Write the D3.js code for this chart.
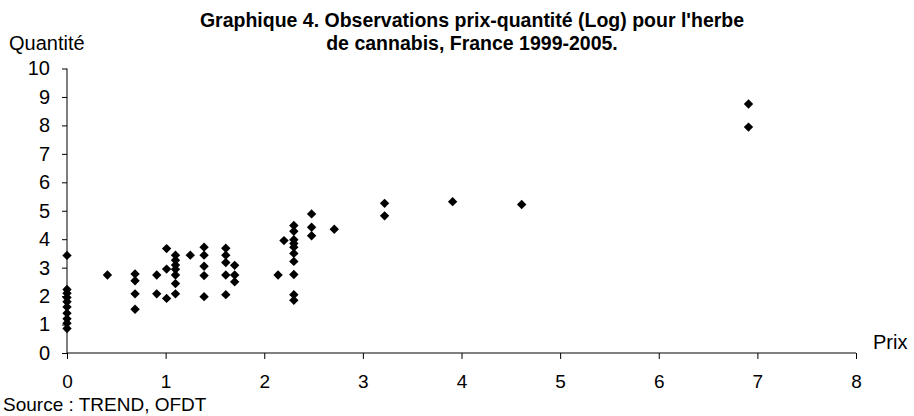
<!DOCTYPE html>
<html>
<head>
<meta charset="utf-8">
<script src="https://cdn.jsdelivr.net/npm/d3@7"></script>
<style>
  body { margin: 0; background: #fff; }
  svg { display: block; font-family: Arial, "Liberation Sans", sans-serif; }
</style>
</head>
<body>
<div id="chart"></div>
<script>
// log prix (x) and log quantite (y) observations
const prix = [
  0, 0, 0, 0, 0, 0, 0, 0, 0, 0,
  0.41,
  0.69, 0.69, 0.69, 0.69,
  0.91, 0.91,
  1.01, 1.01, 1.01,
  1.10, 1.10, 1.10, 1.10, 1.10, 1.10, 1.10,
  1.25,
  1.39, 1.39, 1.39, 1.39, 1.39,
  1.61, 1.61, 1.61, 1.61, 1.61,
  1.70, 1.70, 1.70,
  2.14, 2.20,
  2.30, 2.30, 2.30, 2.30, 2.30, 2.30, 2.30, 2.30, 2.30, 2.30,
  2.48, 2.48, 2.48,
  2.71,
  3.22, 3.22,
  3.91,
  4.61,
  6.91, 6.91
];
const quantite = [
  3.43, 2.23, 2.10, 1.95, 1.80, 1.62, 1.40, 1.20, 1.05, 0.86,
  2.74,
  2.78, 2.54, 2.08, 1.54,
  2.74, 2.08,
  3.67, 2.95, 1.92,
  3.44, 3.26, 3.09, 2.94, 2.74, 2.44, 2.08,
  3.44,
  3.72, 3.44, 3.05, 2.72, 1.98,
  3.68, 3.44, 3.18, 2.74, 2.05,
  3.08, 2.74, 2.50,
  2.74, 3.95,
  4.48, 4.28, 3.98, 3.85, 3.72, 3.50, 3.22, 2.76, 2.05, 1.85,
  4.89, 4.42, 4.12,
  4.35,
  5.26, 4.82,
  5.32,
  5.22,
  8.75, 7.94
];
const xTicks = [0, 1, 2, 3, 4, 5, 6, 7, 8];
const yTicks = [0, 1, 2, 3, 4, 5, 6, 7, 8, 9, 10];

const width = 914, height = 416;

const svg = d3.select("#chart").append("svg")
  .attr("width", width)
  .attr("height", height);

const x = d3.scaleLinear().domain([0, 8]).range([67, 856]);
const y = d3.scaleLinear().domain([0, 10]).range([353, 68.5]);

// title
const title = svg.append("text")
  .attr("text-anchor", "middle")
  .attr("font-size", 19.5)
  .attr("font-weight", "bold");
title.append("tspan").attr("x", 472).attr("y", 27)
  .text("Graphique 4. Observations prix-quantité (Log) pour l'herbe");
title.append("tspan").attr("x", 472).attr("y", 50)
  .text("de cannabis, France 1999-2005.");

// axes
const yAxis = svg.append("g")
  .attr("transform", `translate(${x(0)},0)`)
  .call(d3.axisLeft(y).tickValues(yTicks).tickSize(5).tickPadding(12).tickFormat(d3.format("d")));

const xAxis = svg.append("g")
  .attr("transform", `translate(0,${y(0)})`)
  .call(d3.axisBottom(x).tickValues(xTicks).tickSize(6).tickPadding(16).tickFormat(d3.format("d")));

[xAxis, yAxis].forEach(ax => {
  ax.select(".domain").attr("stroke", "#000").attr("stroke-width", 1);
  ax.selectAll(".tick line").attr("stroke", "#000");
  ax.selectAll(".tick text")
    .attr("fill", "#000")
    .attr("font-family", "Arial, 'Liberation Sans', sans-serif");
});
yAxis.selectAll(".tick text").attr("font-size", 20);
xAxis.selectAll(".tick text").attr("font-size", 19);
// drop the outer end ticks d3 adds on the domain path
xAxis.select(".domain").attr("d", `M${x(0)},0H${x(8)}`);
yAxis.select(".domain").attr("d", `M0,${y(0)}V${y(10)}`);

// axis titles
svg.append("text")
  .attr("x", 9).attr("y", 50)
  .attr("font-size", 20)
  .text("Quantité");

svg.append("text")
  .attr("x", 873).attr("y", 349)
  .attr("font-size", 20)
  .text("Prix");

svg.append("text")
  .attr("x", 3).attr("y", 411)
  .attr("font-size", 19)
  .text("Source : TREND, OFDT");

// diamond markers
const diamond = d3.symbol().type(d3.symbolSquare).size(44);
svg.append("g")
  .selectAll("path")
  .data(prix.map((p, i) => ({ p: p, q: quantite[i] })))
  .enter().append("path")
  .attr("d", diamond)
  .attr("transform", d => `translate(${x(d.p)},${y(d.q)}) rotate(45)`)
  .attr("fill", "#000");
</script>
</body>
</html>
